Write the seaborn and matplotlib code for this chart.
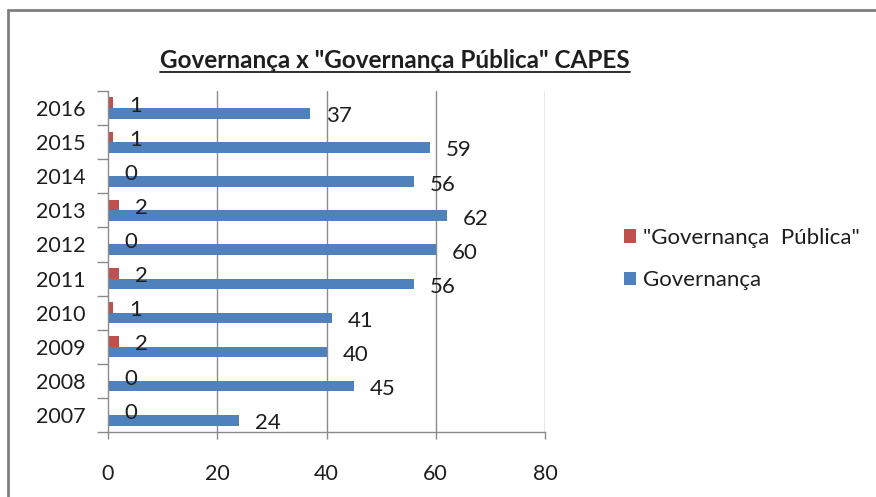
import matplotlib
matplotlib.use("Agg")
import matplotlib.pyplot as plt
from matplotlib.patches import Rectangle
from matplotlib.lines import Line2D
import pandas as pd
import seaborn as sns

# Data
years = ["2016", "2015", "2014", "2013", "2012", "2011", "2010", "2009", "2008", "2007"]
governanca = [37, 59, 56, 62, 60, 56, 41, 40, 45, 24]
governanca_publica = [1, 1, 0, 2, 0, 2, 1, 2, 0, 0]
series_names = ['"Governança  Pública"', "Governança"]
x_ticks = [0, 20, 40, 60, 80]
title = 'Governança x "Governança Pública" CAPES'

df = pd.DataFrame({
    "Ano": years * 2,
    "Valor": governanca_publica + governanca,
    "Série": [series_names[0]] * len(years) + [series_names[1]] * len(years),
})

sns.set_theme(style="white")
plt.rcParams["font.family"] = ["Lato", "DejaVu Sans"]
text_color = "#1e1e1e"
line_color = "#8a8a8a"

W, H = 876, 497
fig = plt.figure(figsize=(W / 100, H / 100), dpi=100)
fig.patch.set_facecolor("white")

ax = fig.add_axes([108 / W, 1 - 432 / H, (545 - 108) / W, (432 - 91) / H])
sns.barplot(
    data=df, y="Ano", x="Valor", hue="Série", order=years,
    hue_order=series_names, palette=["#C0504D", "#4F81BD"],
    orient="h", width=0.62, saturation=1, linewidth=0, ax=ax,
)

ax.set_xlim(0, 80)
ax.set_ylim(len(years) - 0.5, -0.5)
ax.set_xticks(x_ticks)
ax.set_xticklabels([str(t) for t in x_ticks])
ax.set_xlabel("")
ax.set_ylabel("")

# Vertical gridlines
ax.grid(False)
for t in x_ticks[1:]:
    ax.axvline(t, color=line_color, lw=1.0, zorder=0)

for side in ["top", "right"]:
    ax.spines[side].set_visible(False)
for side in ["left", "bottom"]:
    ax.spines[side].set_color(line_color)
    ax.spines[side].set_linewidth(1.0)

# Category boundary ticks on the y axis
ax.set_yticks([i + 0.5 for i in range(-1, len(years))], minor=True)
ax.tick_params(axis="y", which="minor", length=8, width=1.0, color=line_color, left=True)
ax.tick_params(axis="y", which="major", length=0, pad=16, labelsize=15.5, labelcolor=text_color)
ax.tick_params(axis="x", which="major", length=5, width=1.0, color=line_color,
               bottom=True, pad=18, labelsize=15.5, labelcolor=text_color)

# Value labels at bar ends
for cont in ax.containers:
    for bar in cont:
        w = bar.get_width()
        yc = bar.get_y() + bar.get_height() / 2
        ax.annotate(f"{w:.0f}", (w, yc), xytext=(16, -3), textcoords="offset pixels",
                    ha="left", va="center", fontsize=16, color=text_color)

# Legend on the right
handles, labels = ax.get_legend_handles_labels()
ax.get_legend().remove()
fig.legend(handles, labels, loc="center left", bbox_to_anchor=(604 / W, 1 - 259 / H),
           frameon=False, handlelength=0.55, handleheight=0.55, handletextpad=0.3,
           labelspacing=1.0, fontsize=16, labelcolor=text_color)

# Underlined bold title
t = fig.text(395 / W, 1 - 68 / H, title, ha="center", va="baseline",
             fontsize=17.5, fontweight="bold", color=text_color)
fig.canvas.draw()
bb = t.get_window_extent(fig.canvas.get_renderer())
uy = 1 - 71.5 / H
fig.add_artist(Line2D([bb.x0 / W, bb.x1 / W], [uy, uy], color=text_color, lw=1.3,
                      transform=fig.transFigure))

# Outer chart frame
fig.add_artist(Rectangle((8 / W, -0.2), 1.2, 1 - 10 / H + 0.2, transform=fig.transFigure,
                         fill=False, edgecolor="#7f7f7f", lw=2.0, clip_on=False))

fig.savefig("out.png", dpi=100)
